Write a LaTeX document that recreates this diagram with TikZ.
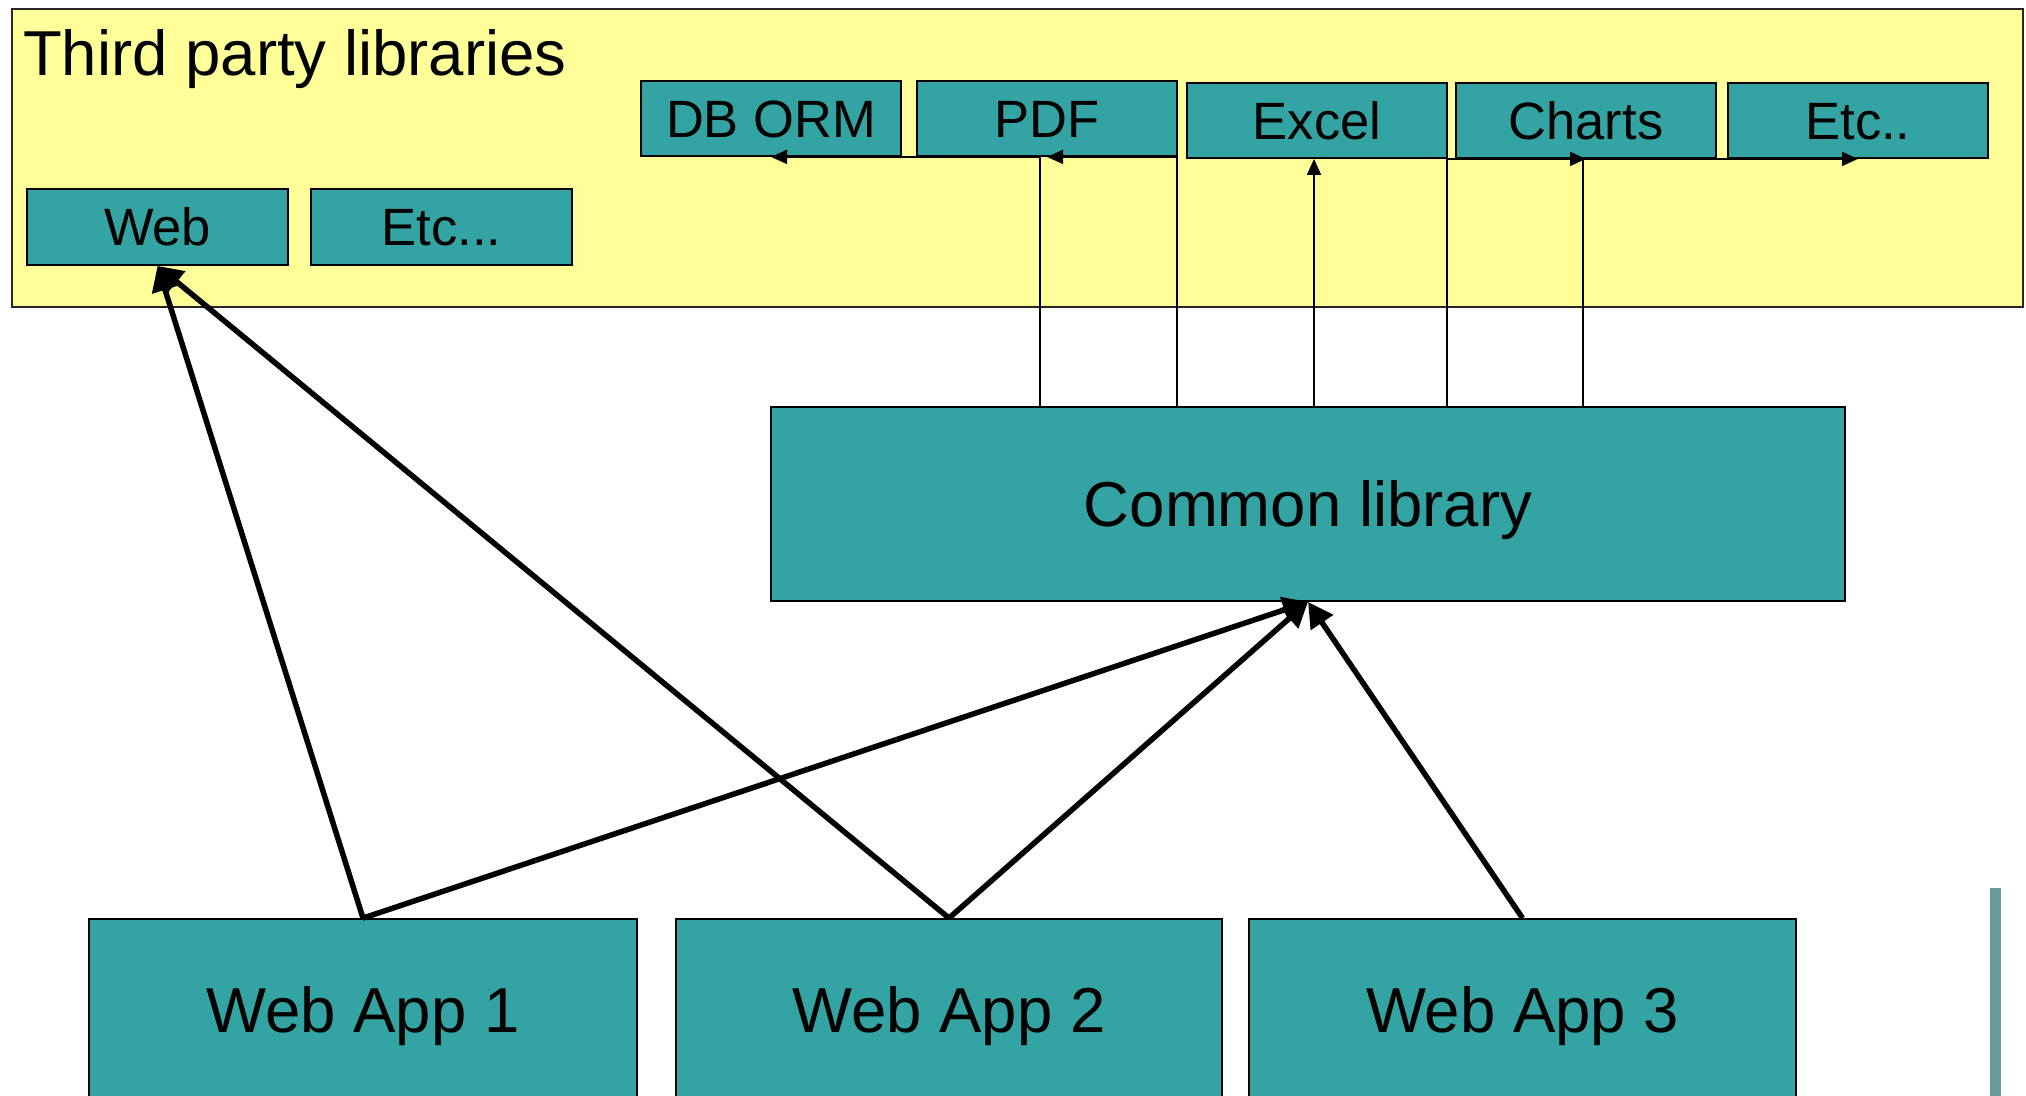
\documentclass[tikz,border=0pt]{standalone}
\usepackage{fontspec}
\setmainfont{Liberation Sans}
\usetikzlibrary{arrows.meta}
\definecolor{libyellow}{RGB}{255,255,153}
\definecolor{tealbox}{RGB}{51,163,163}
\definecolor{sidebar}{RGB}{104,155,152}
\begin{document}
\begin{tikzpicture}[x=1pt,y=-1pt,
  group/.style={draw=black!85, line width=1.8pt, fill=libyellow, inner sep=0pt},
  smallbox/.style={draw=black, line width=1.8pt, fill=tealbox, inner sep=0pt,
    minimum width=260pt, minimum height=75pt,
    font=\fontsize{52.5}{60}\selectfont, text height=37.6pt, text depth=0pt},
  bigbox/.style={draw=black, line width=1.8pt, fill=tealbox, inner sep=0pt,
    font=\fontsize{63.5}{72}\selectfont, text height=45.5pt, text depth=0pt},
  uses/.style={draw=black, line width=1.7pt, -{Triangle[length=16pt,width=14pt]}},
  depends/.style={draw=black, line width=5.5pt, -{Triangle[length=25pt,width=26pt]}}]
\useasboundingbox (0,0) rectangle (2026,1095);
\clip (0,0) rectangle (2026,1095);
\fill[white] (0,0) rectangle (2026,1095);

% third party container
\node[group, minimum width=2011pt, minimum height=298pt] (thirdparty) at (1017.5,158) {};
\node[anchor=base west, inner sep=0pt, font=\fontsize{63.5}{72}\selectfont] (title) at (23,75) {Third party libraries};

% third party libraries
\node[smallbox] (dborm)  at (771,118.5)  {DB ORM};
\node[smallbox] (pdf)    at (1047,118.5) {PDF};
\node[smallbox] (excel)  at (1317,120.5) {Excel};
\node[smallbox] (charts) at (1586,120.5) {Charts};
\node[smallbox] (etcb)   at (1858,120.5) {Etc..};
\node[smallbox, minimum width=261pt, minimum height=76pt] (web)  at (157.5,227) {Web};
\node[smallbox, minimum width=261pt, minimum height=76pt] (etca) at (441.5,227) {Etc...};

% shared library and applications
\node[bigbox, minimum width=1074pt, minimum height=194pt] (common) at (1308,504) {Common library};
\node[bigbox, minimum width=548pt, minimum height=182pt] (app1) at (363,1010)  {Web App 1};
\node[bigbox, minimum width=546pt, minimum height=182pt] (app2) at (949,1010)  {Web App 2};
\node[bigbox, minimum width=547pt, minimum height=182pt] (app3) at (1522.5,1010) {Web App 3};

% side bar
\fill[sidebar] (1990,888) rectangle (2001,1100);

% common library -> third party libraries
\draw[uses] (1040,0 |- common.north) |- (dborm.south);
\draw[uses] (1177,0 |- common.north) |- (pdf.south);
\draw[uses] ([xshift=-3pt]excel.south |- common.north) -- ([xshift=-3pt]excel.south);
\draw[uses] (1447,0 |- common.north) |- (charts.south);
\draw[uses] (1583,0 |- common.north) |- (etcb.south);

% applications -> libraries
\draw[depends] (app1.north) -- (web.south);
\draw[depends] (app2.north) -- (web.south);
\draw[depends] (app1.north) -- (common.south);
\draw[depends] (app2.north) -- (common.south);
\draw[depends] (app3.north) -- (common.south);
\end{tikzpicture}
\end{document}
